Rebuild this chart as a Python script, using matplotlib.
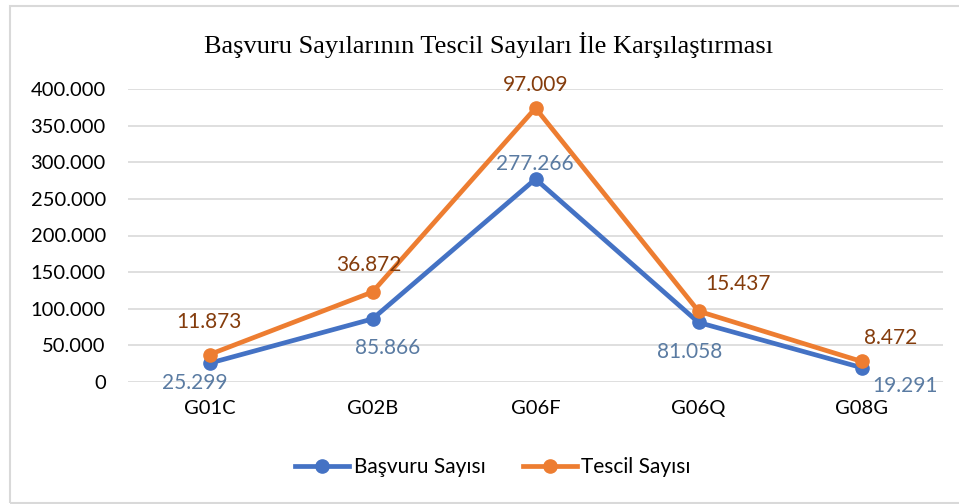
import numpy as np
import matplotlib
matplotlib.use('Agg')
import matplotlib.pyplot as plt
from matplotlib.patches import Rectangle
from matplotlib.ticker import FuncFormatter

categories = ['G01C', 'G02B', 'G06F', 'G06Q', 'G08G']
basvuru = [25299, 85866, 277266, 81058, 19291]
tescil = [11873, 36872, 97009, 15437, 8472]

# stacked line chart: Tescil is drawn on top of Basvuru
stacked = [b + t for b, t in zip(basvuru, tescil)]

# label offsets in pixels (dx, dy) relative to the marker
blue_off = [(-15, -20), (15, -29), (-1, 15), (-9, -30), (44, -18)]
orange_off = [(-1, 33), (-4, 27), (0, 23), (40, 27), (29, 23)]

def fmt(v):
    return f"{v:,.0f}".replace(',', '.')

BLUE = '#4472C4'
ORANGE = '#ED7D31'

plt.rcParams['font.family'] = ['Lato', 'DejaVu Sans']

fig = plt.figure(figsize=(9.59, 5.04), dpi=100)
ax = fig.add_axes([128 / 959, 1 - 381.7 / 504, 815 / 959, 292.4 / 504])

# outer chart frame
fig.patches.append(Rectangle((9.5 / 959, 1 - 503 / 504), 1.0, 497 / 504,
                             transform=fig.transFigure, fill=False,
                             edgecolor='#D9D9D9', linewidth=1.5))

x = np.arange(len(categories))
ax.plot(x, basvuru, color=BLUE, linewidth=3.4, marker='o', markersize=9.5,
        label='Başvuru Sayısı', solid_joinstyle='round', zorder=3)
ax.plot(x, stacked, color=ORANGE, linewidth=3.4, marker='o', markersize=9.5,
        label='Tescil Sayısı', solid_joinstyle='round', zorder=4)

for i in range(len(categories)):
    ax.annotate(fmt(basvuru[i]), (x[i], basvuru[i]), xytext=blue_off[i],
                textcoords='offset pixels', ha='center', va='center',
                fontsize=15, color='#5A7BA2', zorder=5)
    ax.annotate(fmt(tescil[i]), (x[i], stacked[i]), xytext=orange_off[i],
                textcoords='offset pixels', ha='center', va='center',
                fontsize=15, color='#843C0C', zorder=5)

ax.set_xlim(-0.5, len(categories) - 0.5)
ax.set_ylim(0, 400000)
ax.set_yticks(np.arange(0, 400001, 50000))
ax.yaxis.set_major_formatter(FuncFormatter(lambda v, p: fmt(v)))
ax.set_xticks(x)
ax.set_xticklabels(categories)
ax.tick_params(axis='both', length=0, labelsize=14.5, colors='black')
ax.tick_params(axis='y', pad=16)
ax.tick_params(axis='x', pad=13)
ax.grid(axis='y', color='#D9D9D9', linewidth=1.2)
ax.set_axisbelow(True)
for s in ax.spines.values():
    s.set_visible(False)

fig.text(489 / 959, 1 - 45 / 504, 'Başvuru Sayılarının Tescil Sayıları İle Karşılaştırması',
         family='Liberation Serif', fontsize=19, ha='center', va='center')

fig.legend(loc='center', bbox_to_anchor=(493 / 959, 1 - 467 / 504), ncol=2,
           frameon=False, fontsize=15, handlelength=2.6, columnspacing=1.8,
           handletextpad=0.2)

fig.savefig('out.png', dpi=100)
